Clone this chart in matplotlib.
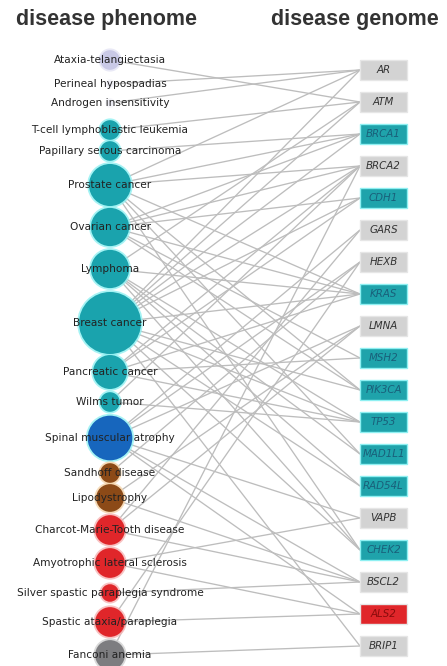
import matplotlib
matplotlib.use("Agg")
import matplotlib.pyplot as plt
from matplotlib.patches import Circle, Rectangle
from matplotlib.collections import LineCollection
import numpy as np

# ---------------- data ----------------
diseases = ["Ataxia-telangiectasia", "Perineal hypospadias", "Androgen insensitivity",
            "T-cell lymphoblastic leukemia", "Papillary serous carcinoma", "Prostate cancer",
            "Ovarian cancer", "Lymphoma", "Breast cancer", "Pancreatic cancer", "Wilms tumor",
            "Spinal muscular atrophy", "Sandhoff disease", "Lipodystrophy",
            "Charcot-Marie-Tooth disease", "Amyotrophic lateral sclerosis",
            "Silver spastic paraplegia syndrome", "Spastic ataxia/paraplegia", "Fanconi anemia"]
disease_class = ["ataxia", "pale", "pale", "cancer", "cancer", "cancer", "cancer", "cancer",
                 "cancer", "cancer", "cancer", "muscular", "metabolic", "metabolic",
                 "neuro", "neuro", "neuro", "neuro", "multiple"]
# node size (number of associated genes, read from circle areas)
disease_size = [1, 0.1, 0.1, 1, 1, 4.6, 3.8, 3.8, 10, 3, 1, 5.2, 1, 2, 2.3, 2.3, 0.8, 2.3, 2.3]

genes = ["AR", "ATM", "BRCA1", "BRCA2", "CDH1", "GARS", "HEXB", "KRAS", "LMNA", "MSH2",
         "PIK3CA", "TP53", "MAD1L1", "RAD54L", "VAPB", "CHEK2", "BSCL2", "ALS2", "BRIP1"]
gene_class = ["multiple", "multiple", "cancer", "multiple", "cancer", "multiple", "multiple",
              "cancer", "multiple", "cancer", "cancer", "cancer", "cancer", "cancer",
              "multiple", "cancer", "multiple", "neuro", "multiple"]

associations = {
    "Ataxia-telangiectasia": ["ATM"],
    "Perineal hypospadias": ["AR"],
    "Androgen insensitivity": ["AR"],
    "T-cell lymphoblastic leukemia": ["ATM"],
    "Papillary serous carcinoma": ["BRCA1"],
    "Prostate cancer": ["AR", "BRCA1", "BRCA2", "KRAS", "PIK3CA", "MAD1L1", "CHEK2"],
    "Ovarian cancer": ["BRCA1", "BRCA2", "CDH1", "KRAS", "MSH2", "PIK3CA"],
    "Lymphoma": ["ATM", "KRAS", "TP53", "MAD1L1", "RAD54L", "CHEK2"],
    "Breast cancer": ["AR", "ATM", "BRCA1", "BRCA2", "CDH1", "KRAS", "PIK3CA", "TP53",
                      "RAD54L", "CHEK2", "BRIP1"],
    "Pancreatic cancer": ["BRCA2", "CDH1", "KRAS", "MSH2", "TP53"],
    "Wilms tumor": ["BRCA2", "TP53"],
    "Spinal muscular atrophy": ["GARS", "HEXB", "LMNA", "VAPB", "BSCL2", "ALS2"],
    "Sandhoff disease": ["HEXB"],
    "Lipodystrophy": ["LMNA", "BSCL2"],
    "Charcot-Marie-Tooth disease": ["GARS", "LMNA", "BSCL2"],
    "Amyotrophic lateral sclerosis": ["VAPB", "ALS2"],
    "Silver spastic paraplegia syndrome": ["BSCL2"],
    "Spastic ataxia/paraplegia": ["HEXB", "ALS2"],
    "Fanconi anemia": ["BRCA2", "BRIP1"],
}

# ---------------- layout / style ----------------
W, H = 447, 666
left_x = 110
left_y = [60, 84, 103, 130, 151, 185, 227, 269, 323, 372, 402, 438, 473, 498, 530,
          563, 593, 622, 655]
box_x0, box_w, box_h = 360, 47, 20
gene_y0, gene_dy = 70, 32
r_unit = 9.8

circle_fill = {"ataxia": "#c9c9e6", "pale": "#ececf5", "cancer": "#1aa3ad",
               "muscular": "#1766bd", "metabolic": "#8c4a17", "neuro": "#e0262a",
               "multiple": "#7d7d80"}
circle_halo = {"ataxia": "#e4e4f4", "pale": "#f5f5fa", "cancer": "#8ff0f2",
               "muscular": "#8ff0f2", "metabolic": "#f4d3a8", "neuro": "#f7b3b3",
               "multiple": "#d0d0d0"}
box_fill = {"multiple": "#d3d3d3", "cancer": "#1fa3ab", "neuro": "#e0262a"}
box_text = {"multiple": "#333333", "cancer": "#19607a", "neuro": "#8a0c0c"}

fig = plt.figure(figsize=(W / 100, H / 100), dpi=100)
ax = fig.add_axes([0, 0, 1, 1])
ax.set_xlim(0, W)
ax.set_ylim(H, 0)
ax.axis("off")

gene_pos = {g: gene_y0 + gene_dy * i for i, g in enumerate(genes)}
dis_pos = dict(zip(diseases, left_y))

# edges
segs = []
for d in diseases:
    for g in associations[d]:
        segs.append([(left_x, dis_pos[d]), (box_x0, gene_pos[g])])
ax.add_collection(LineCollection(segs, colors="#bdbdbd", linewidths=0.95, zorder=1))

# disease nodes
for d, c, s in zip(diseases, disease_class, disease_size):
    r = r_unit * np.sqrt(s)
    ax.add_patch(Circle((left_x, dis_pos[d]), r + 1.8, facecolor=circle_halo[c],
                        edgecolor="none", alpha=0.8, zorder=2))
    ax.add_patch(Circle((left_x, dis_pos[d]), r, facecolor=circle_fill[c],
                        edgecolor="none", zorder=3))
    ax.text(left_x, dis_pos[d], d, ha="center", va="center", fontsize=7.6,
            family="DejaVu Sans", color="#222222", zorder=5)

# gene nodes
for g, c in zip(genes, gene_class):
    y = gene_pos[g]
    ec = "#8ff0f2" if c == "cancer" else "#e6e6e6"
    ax.add_patch(Rectangle((box_x0, y - box_h / 2), box_w, box_h, facecolor=box_fill[c],
                           edgecolor=ec, linewidth=1.0, zorder=3))
    ax.text(box_x0 + box_w / 2, y, g, ha="center", va="center", fontsize=7.4,
            style="italic", family="DejaVu Sans", color=box_text[c], zorder=5)

# titles
ax.text(106, 20, "disease phenome", ha="center", va="center", fontsize=15.5,
        fontweight="bold", family="Liberation Sans", color="#333333")
ax.text(355, 20, "disease genome", ha="center", va="center", fontsize=15.5,
        fontweight="bold", family="Liberation Sans", color="#333333")

fig.savefig("out.png", dpi=100, facecolor="white")
